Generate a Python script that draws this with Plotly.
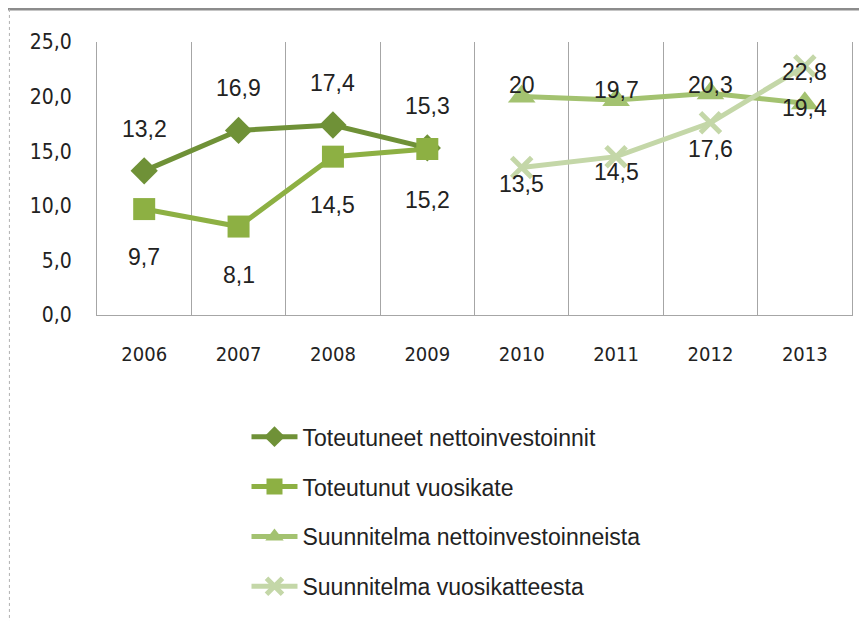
import plotly.graph_objects as go

# 數據
years = ["2006", "2007", "2008", "2009", "2010", "2011", "2012", "2013"]
toteutuneet_netto = [13.2, 16.9, 17.4, 15.3, None, None, None, None]
toteutunut_vuosikate = [9.7, 8.1, 14.5, 15.2, None, None, None, None]
suunnitelma_netto = [None, None, None, None, 20, 19.7, 20.3, 19.4]
suunnitelma_vuosikate = [None, None, None, None, 13.5, 14.5, 17.6, 22.8]

series_names = [
    "Toteutuneet nettoinvestoinnit",
    "Toteutunut vuosikate",
    "Suunnitelma nettoinvestoinneista",
    "Suunnitelma vuosikatteesta",
]

# 樣式
colors = ["#6f9137", "#8db043", "#a3c270", "#c4d7a8"]
symbols = ["diamond", "square", "triangle-up", "x-thin-open"]
marker_sizes = [21, 22, 24, 20]
# 每點標籤位移(px, 正 = 往下)
label_offsets = [
    [-42, -42, -42, -42],
    [48, 48, 48, 51],
    [-12, -10, -8, 5],
    [16, 15, 26, 6],
]

TICK_FONT = "Liberation Sans Narrow, DejaVu Sans Condensed, sans-serif"
LABEL_FONT = "Liberation Sans, Arial, sans-serif"

fig = go.Figure()
all_series = [toteutuneet_netto, toteutunut_vuosikate, suunnitelma_netto, suunnitelma_vuosikate]
xpos = list(range(len(years)))

for i, (name, vals) in enumerate(zip(series_names, all_series)):
    if symbols[i] == "x-thin-open":
        marker = dict(symbol="x-thin-open", size=marker_sizes[i], color=colors[i],
                      line=dict(color=colors[i], width=5))
    else:
        marker = dict(symbol=symbols[i], size=marker_sizes[i], color=colors[i],
                      line=dict(width=0))
    fig.add_trace(go.Scatter(
        x=xpos, y=vals, name=name, mode="lines+markers",
        line=dict(color=colors[i], width=5), marker=marker,
        legendgroup=f"g{i}", connectgaps=False,
    ))

# 資料標籤
for i, vals in enumerate(all_series):
    k = 0
    for xi, v in zip(xpos, vals):
        if v is None:
            continue
        txt = f"{v:g}".replace(".", ",")
        fig.add_annotation(x=xi, y=v, text=txt, showarrow=False,
                           yshift=-label_offsets[i][k],
                           font=dict(family=LABEL_FONT, size=23, color="#222222"))
        k += 1

# 外框
fig.add_shape(type="line", xref="paper", yref="paper",
              x0=-0.12, x1=1.03, y0=1.121, y1=1.121,
              line=dict(color="#8c8c8c", width=3))
fig.add_shape(type="line", xref="paper", yref="paper",
              x0=-0.116, x1=-0.116, y0=1.121, y1=-1.2,
              line=dict(color="#b0b0b0", width=1, dash="dot"))

fig.update_xaxes(
    range=[-0.5, len(years) - 0.5], tickvals=xpos, ticktext=years,
    showgrid=False, zeroline=False, automargin=False,
    minor=dict(tick0=-0.5, dtick=1, showgrid=True, gridcolor="#a6a6a6", gridwidth=1),
    showline=True, linecolor="#a6a6a6", linewidth=1,
    ticks="", ticklabelstandoff=21,
    tickfont=dict(family=TICK_FONT, size=20, color="#222222"),
)
fig.update_yaxes(
    range=[0, 25], dtick=5, tickformat=".1f", showgrid=False, zeroline=False,
    showline=True, mirror=True, linecolor="#a6a6a6", linewidth=1,
    ticks="", ticklabelstandoff=20, automargin=False,
    tickfont=dict(family=TICK_FONT, size=21, color="#222222"),
)

fig.update_layout(
    width=867, height=621,
    margin=dict(l=89, r=23, t=34, b=314),
    paper_bgcolor="white", plot_bgcolor="white",
    separators=", ",
    font=dict(family=LABEL_FONT, color="#222222"),
    showlegend=True,
    legend=dict(
        x=0.198, y=-0.367, xanchor="left", yanchor="top",
        orientation="v", traceorder="grouped", tracegroupgap=17,
        itemwidth=46,
        font=dict(family=LABEL_FONT, size=23, color="#222222"),
    ),
)

fig.write_html("out.html")
